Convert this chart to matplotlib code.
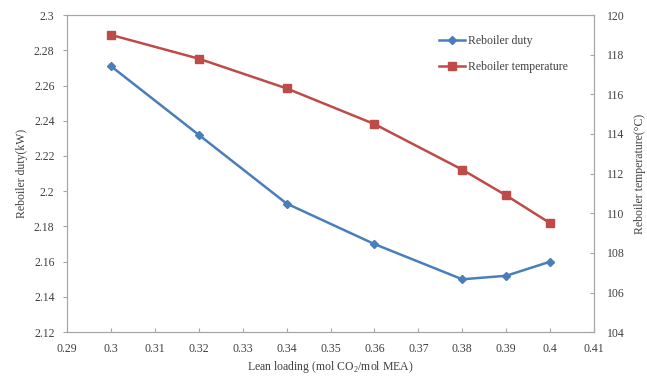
import matplotlib
matplotlib.use("Agg")
import matplotlib.pyplot as plt

# data
lean_loading = [0.30, 0.32, 0.34, 0.36, 0.38, 0.39, 0.40]
reboiler_duty = [2.271, 2.232, 2.193, 2.170, 2.150, 2.152, 2.160]
reboiler_temp = [119.0, 117.8, 116.3, 114.5, 112.2, 110.9, 109.5]

x_ticks = [0.29, 0.30, 0.31, 0.32, 0.33, 0.34, 0.35, 0.36, 0.37, 0.38, 0.39, 0.40, 0.41]
x_labels = ["0.29", "0.3", "0.31", "0.32", "0.33", "0.34", "0.35", "0.36",
            "0.37", "0.38", "0.39", "0.4", "0.41"]
left_ticks = [2.12, 2.14, 2.16, 2.18, 2.2, 2.22, 2.24, 2.26, 2.28, 2.3]
left_labels = ["2.12", "2.14", "2.16", "2.18", "2.2", "2.22", "2.24", "2.26", "2.28", "2.3"]
right_ticks = [104, 106, 108, 110, 112, 114, 116, 118, 120]

plt.rcParams["font.family"] = ["Liberation Serif", "DejaVu Serif"]
plt.rcParams["mathtext.fontset"] = "custom"
plt.rcParams["mathtext.rm"] = "Liberation Serif"
text_color = "#404040"
spine_color = "#a6a6a6"

fig = plt.figure(figsize=(6.47, 3.77), dpi=100)
ax = fig.add_axes([0.1036, 0.119, 0.8145, 0.841])
ax2 = ax.twinx()

l1, = ax.plot(lean_loading, reboiler_duty, color="#4a7ebb", marker="D",
              markersize=4, linewidth=1.8, label="Reboiler duty")
l2, = ax2.plot(lean_loading, reboiler_temp, color="#be4b48", marker="s",
               markersize=6, linewidth=1.8, label="Reboiler temperature")

ax.set_xlim(0.29, 0.41)
ax.set_ylim(2.12, 2.3)
ax2.set_ylim(104, 120)
ax.set_xticks(x_ticks)
ax.set_xticklabels(x_labels)
ax.set_yticks(left_ticks)
ax.set_yticklabels(left_labels)
ax2.set_yticks(right_ticks)

for a in (ax, ax2):
    for s in a.spines.values():
        s.set_color(spine_color)
        s.set_linewidth(0.8)
    a.tick_params(colors=spine_color, labelcolor=text_color, labelsize=8.5, length=3)
ax.tick_params(axis="x", direction="in", pad=8)
ax.tick_params(axis="y", pad=6)
ax2.tick_params(axis="y", direction="in", pad=9)

ax.set_xlabel("Lean loading (mol CO$_\\mathrm{2}$/mol MEA)", fontsize=8.5,
              color=text_color, labelpad=3)
ax.set_ylabel("Reboiler duty(kW)", fontsize=8.5, color=text_color, labelpad=4)
ax2.set_ylabel("Reboiler temperature(°C)", fontsize=8.5, color=text_color, labelpad=7)

leg = ax.legend(handles=[l1, l2], loc="upper right", bbox_to_anchor=(0.97, 0.97),
                frameon=False, fontsize=8.5, handlelength=2.2, handletextpad=0.2,
                labelspacing=1.2)
for t in leg.get_texts():
    t.set_color(text_color)

fig.savefig("out.png", dpi=100)
